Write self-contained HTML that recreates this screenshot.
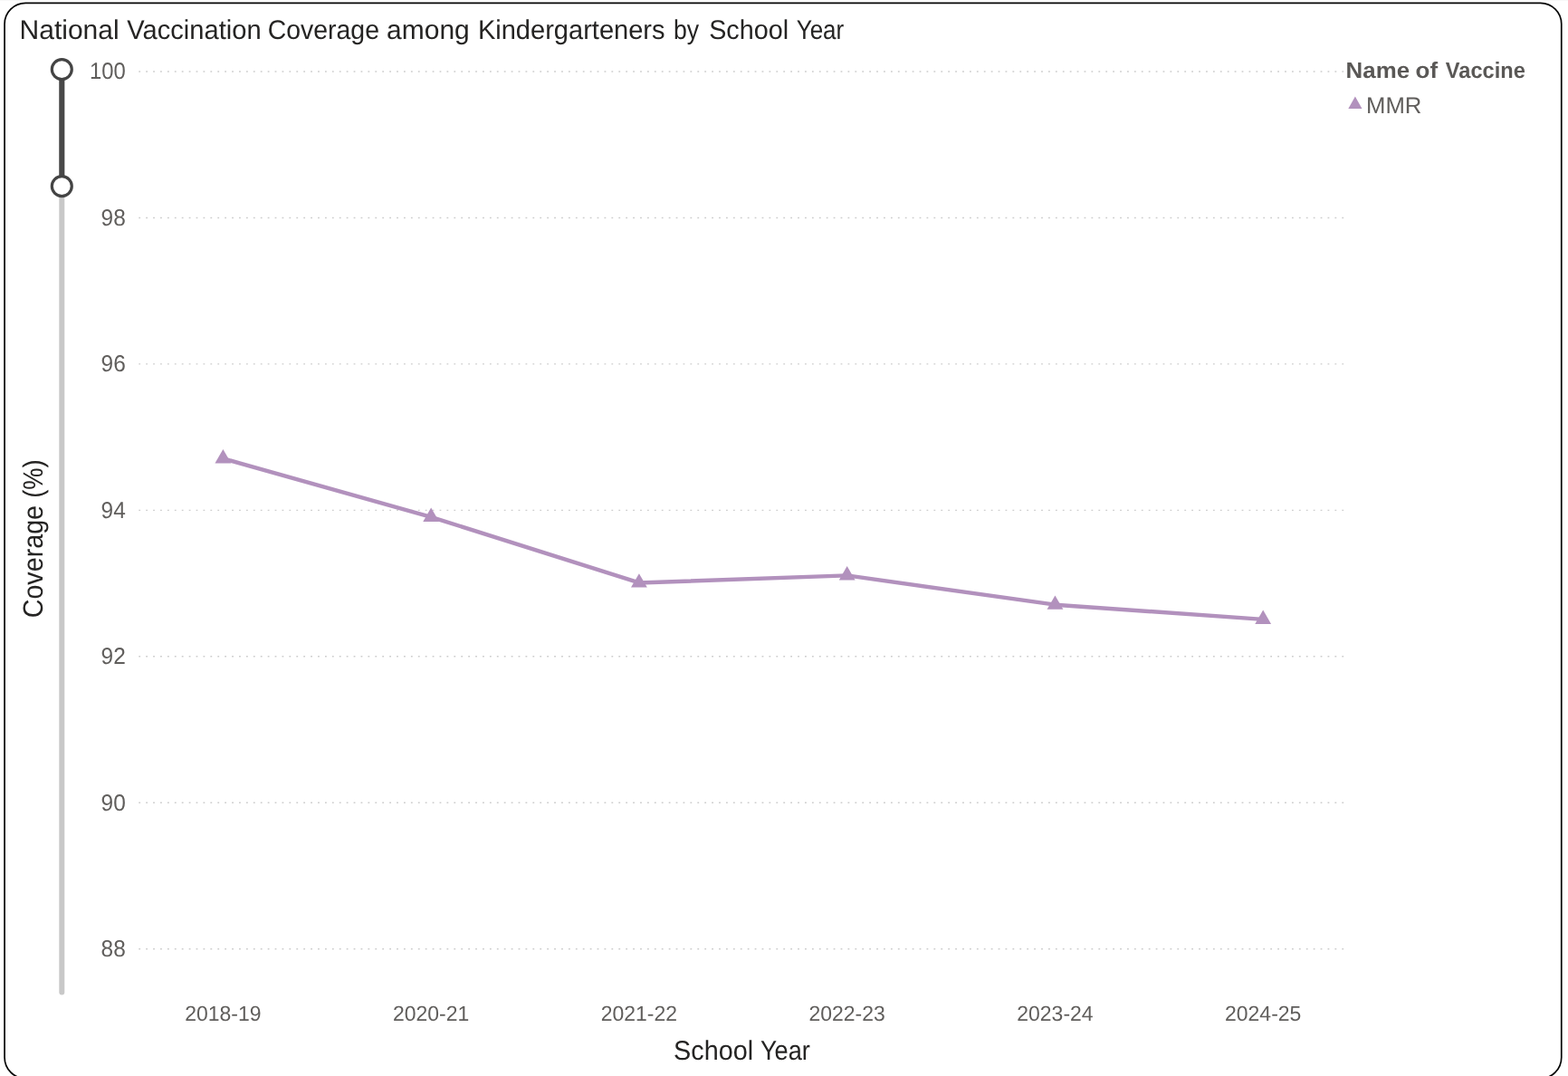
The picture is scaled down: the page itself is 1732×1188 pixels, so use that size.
<!DOCTYPE html>
<html lang="en">
<head>
<meta charset="utf-8">
<title>National Vaccination Coverage among Kindergarteners by School Year</title>
<style>
html,body{margin:0;padding:0;background:#fff;}
body{width:1732px;height:1188px;overflow:hidden;position:relative;font-family:"Liberation Sans", sans-serif;}
.card{position:absolute;left:0;top:0;width:1732px;height:1188px;background:#fff;overflow:hidden;}
.frame{fill:#fff;stroke:#050505;stroke-width:1.7;}
svg{position:absolute;left:0;top:0;}
svg text{font-family:"Liberation Sans", sans-serif;text-rendering:geometricPrecision;}
.title{fill:#252423;font-size:29.9px;}
.ylab{fill:#605e5c;font-size:25.7px;text-anchor:end;}
.xlab{fill:#605e5c;font-size:23.4px;text-anchor:middle;}
.axt{fill:#252423;font-size:30px;}
.ayt{fill:#252423;font-size:30.8px;}
.legt{fill:#5a5856;font-size:24.8px;font-weight:bold;}
.legi{fill:#605e5c;font-size:25.4px;}
.grid line{stroke:#cdcdcd;stroke-width:1.4;stroke-dasharray:1.8 6.111;}
</style>
</head>
<body>
<div class="card">
<svg width="1732" height="1188" viewBox="0 0 1732 1188">
<rect x="0" y="0" width="1732" height="1" fill="#f7f7f7"/>
<rect class="frame" x="5.05" y="3.3" width="1719.7" height="1187.4" rx="23.15" ry="23.15"/>
<text class="title" y="43.25"><tspan x="21.52" textLength="110.11" lengthAdjust="spacingAndGlyphs">National</tspan> <tspan x="140.36" textLength="148.24" lengthAdjust="spacingAndGlyphs">Vaccination</tspan> <tspan x="295.75" textLength="123.20" lengthAdjust="spacingAndGlyphs">Coverage</tspan> <tspan x="427.12" textLength="91.70" lengthAdjust="spacingAndGlyphs">among</tspan> <tspan x="527.90" textLength="206.65" lengthAdjust="spacingAndGlyphs">Kindergarteners</tspan> <tspan x="744.04" textLength="28.14" lengthAdjust="spacingAndGlyphs">by</tspan> <tspan x="783.16" textLength="87.91" lengthAdjust="spacingAndGlyphs">School</tspan> <tspan x="879.67" textLength="52.62" lengthAdjust="spacingAndGlyphs">Year</tspan></text>
<g class="slider">
<line x1="68.3" y1="76" x2="68.3" y2="1095.5" stroke="#c8c8c8" stroke-width="6" stroke-linecap="round"/>
<line x1="68.3" y1="76" x2="68.3" y2="205.6" stroke="#484848" stroke-width="6"/>
<circle cx="68.3" cy="76.6" r="11" fill="#fff" stroke="#444" stroke-width="3.2"/>
<circle cx="68.3" cy="205.6" r="11" fill="#fff" stroke="#444" stroke-width="3.2"/>
</g>
<g class="grid">
<line x1="153.3" y1="79.00" x2="1484.4" y2="79.00"/>
<line x1="153.3" y1="240.45" x2="1484.4" y2="240.45"/>
<line x1="153.3" y1="401.90" x2="1484.4" y2="401.90"/>
<line x1="153.3" y1="563.35" x2="1484.4" y2="563.35"/>
<line x1="153.3" y1="724.80" x2="1484.4" y2="724.80"/>
<line x1="153.3" y1="886.25" x2="1484.4" y2="886.25"/>
<line x1="153.3" y1="1047.70" x2="1484.4" y2="1047.70"/>
</g>
<g class="yaxis">
<text class="ylab" x="138.8" y="87.30" textLength="39.8" lengthAdjust="spacingAndGlyphs">100</text>
<text class="ylab" x="138.8" y="248.75" textLength="27.2" lengthAdjust="spacingAndGlyphs">98</text>
<text class="ylab" x="138.8" y="410.20" textLength="27.2" lengthAdjust="spacingAndGlyphs">96</text>
<text class="ylab" x="138.8" y="571.65" textLength="27.2" lengthAdjust="spacingAndGlyphs">94</text>
<text class="ylab" x="138.8" y="733.10" textLength="27.2" lengthAdjust="spacingAndGlyphs">92</text>
<text class="ylab" x="138.8" y="894.55" textLength="27.2" lengthAdjust="spacingAndGlyphs">90</text>
<text class="ylab" x="138.8" y="1056.00" textLength="27.2" lengthAdjust="spacingAndGlyphs">88</text>
</g>
<g class="xaxis">
<text class="xlab" x="246.40" y="1127.1" textLength="84.3" lengthAdjust="spacingAndGlyphs">2018-19</text>
<text class="xlab" x="476.16" y="1127.1" textLength="84.3" lengthAdjust="spacingAndGlyphs">2020-21</text>
<text class="xlab" x="705.92" y="1127.1" textLength="84.3" lengthAdjust="spacingAndGlyphs">2021-22</text>
<text class="xlab" x="935.68" y="1127.1" textLength="84.3" lengthAdjust="spacingAndGlyphs">2022-23</text>
<text class="xlab" x="1165.44" y="1127.1" textLength="84.3" lengthAdjust="spacingAndGlyphs">2023-24</text>
<text class="xlab" x="1395.20" y="1127.1" textLength="84.3" lengthAdjust="spacingAndGlyphs">2024-25</text>
</g>
<text class="axt" y="1170.2"><tspan x="744.04" textLength="88.04" lengthAdjust="spacingAndGlyphs">School</tspan> <tspan x="839.92" textLength="55.00" lengthAdjust="spacingAndGlyphs">Year</tspan></text>
<text class="ayt" transform="translate(46.5 680.8) rotate(-90)"><tspan x="-1.51" textLength="124.36" lengthAdjust="spacingAndGlyphs">Coverage</tspan> <tspan x="130.98" textLength="42.42" lengthAdjust="spacingAndGlyphs">(%)</tspan></text>
<polyline points="246.40,506.24 476.16,570.82 705.92,643.47 935.68,635.40 1165.44,667.69 1395.20,683.84" fill="none" stroke="#b291bd" stroke-width="4.4" stroke-linejoin="round" stroke-linecap="round"/>
<path d="M246.40,495.94 L255.32,511.39 L237.48,511.39 Z" fill="#b291bd"/>
<path d="M476.16,560.52 L485.08,575.97 L467.24,575.97 Z" fill="#b291bd"/>
<path d="M705.92,633.17 L714.84,648.62 L697.00,648.62 Z" fill="#b291bd"/>
<path d="M935.68,625.10 L944.60,640.55 L926.76,640.55 Z" fill="#b291bd"/>
<path d="M1165.44,657.39 L1174.36,672.84 L1156.52,672.84 Z" fill="#b291bd"/>
<path d="M1395.20,673.54 L1404.12,688.99 L1386.28,688.99 Z" fill="#b291bd"/>
<text class="legt" y="86.0"><tspan x="1486.62" textLength="70.44" lengthAdjust="spacingAndGlyphs">Name</tspan> <tspan x="1563.52" textLength="24.52" lengthAdjust="spacingAndGlyphs">of</tspan> <tspan x="1596.86" textLength="87.94" lengthAdjust="spacingAndGlyphs">Vaccine</tspan></text>
<path d="M1496.9,106.6 L1504.5,120 L1489.3,120 Z" fill="#b291bd"/>
<text class="legi" x="1509" y="124.5" textLength="61.4" lengthAdjust="spacingAndGlyphs">MMR</text>
</svg>
</div>
</body>
</html>
